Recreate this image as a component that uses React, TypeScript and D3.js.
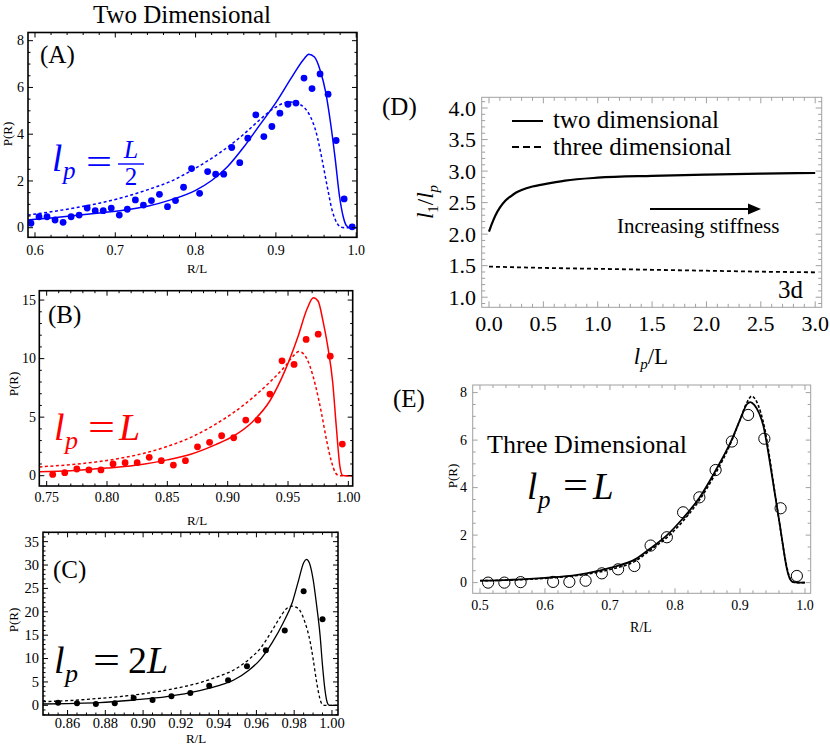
import React from 'react';
import * as d3 from 'd3';

const SERIF = "'Liberation Serif', 'Times New Roman', serif";
type Pt = [number, number];

// ---------- Panel A (2D, lp = L/2) ----------
const aDotX = [0.595,0.605,0.615,0.625,0.635,0.645,0.655,0.665,0.675,0.685,0.695,0.705,0.715,0.725,0.735,0.745,0.755,0.765,0.775,0.785,0.795,0.805,0.815,0.825,0.835,0.845,0.855,0.865,0.875,0.885,0.895,0.905,0.915,0.925,0.935,0.945,0.955,0.965,0.975,0.985,0.995];
const aDotY = [0.19,0.47,0.47,0.33,0.23,0.47,0.54,0.84,0.73,0.73,0.84,0.54,0.79,1.19,0.97,1.16,1.43,0.90,1.16,1.73,2.53,1.47,2.40,2.29,2.29,3.43,2.78,3.83,4.83,3.90,4.33,4.90,5.28,5.33,6.40,5.95,6.58,5.71,3.73,1.23,0.04];
const aSolid: Pt[] = [[0.591,0.33],[0.62,0.42],[0.65,0.52],[0.68,0.63],[0.71,0.75],[0.74,0.92],[0.77,1.2],[0.80,1.6],[0.82,2.02],[0.84,2.62],[0.86,3.45],[0.88,4.4],[0.90,5.35],[0.92,6.45],[0.935,7.22],[0.941,7.42],[0.948,7.3],[0.955,6.75],[0.962,5.8],[0.968,4.5],[0.974,2.9],[0.979,1.4],[0.984,0.45],[0.988,0.08],[0.992,0],[1.001,0]];
const aDashed: Pt[] = [[0.591,0.54],[0.62,0.68],[0.65,0.85],[0.68,1.05],[0.71,1.3],[0.74,1.62],[0.77,2.0],[0.80,2.55],[0.83,3.2],[0.86,4.0],[0.88,4.62],[0.895,5.05],[0.91,5.33],[0.918,5.38],[0.926,5.32],[0.935,5.15],[0.943,4.75],[0.95,4.1],[0.957,3.0],[0.964,1.75],[0.970,0.75],[0.976,0.2],[0.981,0.02],[0.985,0],[1.001,0]];
const aXTicks = [0.6,0.7,0.8,0.9,1.0];
const aYTicks = [0,2,4,6,8];

// ---------- Panel B (2D, lp = L) ----------
const bDotX = [0.755,0.765,0.775,0.785,0.795,0.805,0.815,0.825,0.835,0.845,0.855,0.865,0.875,0.885,0.895,0.905,0.915,0.925,0.935,0.945,0.955,0.965,0.975,0.985,0.995];
const bDotY = [0.11,0.26,0.57,0.49,0.49,1.0,1.11,1.11,1.57,1.28,0.91,1.28,2.47,2.85,3.41,3.24,4.75,4.75,6.97,9.81,9.50,11.64,12.09,10.21,2.7];
const bSolid: Pt[] = [[0.744,0.33],[0.77,0.42],[0.80,0.65],[0.83,0.98],[0.85,1.35],[0.87,1.85],[0.89,2.65],[0.905,3.4],[0.92,4.55],[0.935,6.4],[0.948,9.1],[0.958,11.8],[0.966,14.3],[0.971,15.2],[0.975,14.9],[0.979,13.2],[0.983,11.0],[0.987,8.0],[0.990,4.2],[0.993,0.8],[0.995,0.05],[0.997,0],[1.0036,0]];
const bDashed: Pt[] = [[0.744,0.75],[0.77,0.95],[0.80,1.3],[0.83,1.9],[0.85,2.5],[0.87,3.3],[0.89,4.4],[0.905,5.4],[0.92,6.6],[0.935,8.0],[0.948,9.4],[0.955,10.3],[0.959,10.6],[0.963,10.4],[0.968,9.4],[0.973,7.6],[0.978,5.2],[0.982,3.0],[0.986,1.2],[0.989,0.3],[0.992,0.02],[0.994,0],[1.0036,0]];
const bXTicks = [0.75,0.80,0.85,0.90,0.95,1.00];
const bYTicks = [0,5,10,15];

// ---------- Panel C (2D, lp = 2L) ----------
const cDotX = [0.855,0.865,0.875,0.885,0.895,0.905,0.915,0.925,0.935,0.945,0.955,0.965,0.975,0.985,0.995];
const cDotY = [0.56,0.42,0.28,0.42,1.56,1.13,1.92,2.63,4.19,5.34,8.33,11.75,16.02,24.4,18.38];
const cSolid: Pt[] = [[0.847,0.28],[0.86,0.38],[0.877,0.56],[0.895,1.13],[0.9125,1.85],[0.93,3.13],[0.94,4.2],[0.948,5.41],[0.956,7.5],[0.9625,10.0],[0.9685,13.5],[0.974,17.5],[0.979,22.0],[0.9825,27.0],[0.985,30.5],[0.9865,31.2],[0.988,30.5],[0.990,27.0],[0.992,21.0],[0.9937,15.0],[0.995,8.5],[0.9963,3.3],[0.9975,0.6],[0.9985,0],[1.0032,0]];
const cDashed: Pt[] = [[0.847,0.78],[0.86,1.0],[0.877,1.49],[0.895,2.2],[0.9125,3.28],[0.93,4.84],[0.94,6.2],[0.948,7.55],[0.956,9.8],[0.9625,12.4],[0.968,15.8],[0.9725,18.8],[0.976,20.7],[0.9787,21.2],[0.981,21.0],[0.983,20.3],[0.9855,18.0],[0.9885,13.5],[0.990,10.0],[0.992,4.7],[0.9935,1.6],[0.9945,0.4],[0.996,0],[1.0032,0]];
const cXTicks = [0.86,0.88,0.90,0.92,0.94,0.96,0.98,1.00];
const cYTicks = [0,5,10,15,20,25,30,35];

// ---------- Panel D (l1/lp vs lp/L) ----------
const dTwoD: Pt[] = [[0.0,2.04],[0.03,2.18],[0.06,2.3],[0.1,2.42],[0.15,2.53],[0.2,2.6],[0.25,2.66],[0.3,2.7],[0.4,2.755],[0.5,2.79],[0.7,2.85],[1.0,2.895],[1.5,2.925],[2.0,2.945],[2.5,2.96],[3.0,2.97]];
const dThreeD: Pt[] = [[0.0,1.485],[0.5,1.465],[1.0,1.45],[1.5,1.435],[2.0,1.42],[2.5,1.405],[3.0,1.395]];
const dXTicks = [0,0.5,1.0,1.5,2.0,2.5,3.0];
const dYTicks = [1.0,1.5,2.0,2.5,3.0,3.5,4.0];
const dLegend = ['two dimensional', 'three dimensional'];

// ---------- Panel E (3D, lp = L) ----------
const eDotX = [0.5125,0.5375,0.5625,0.6125,0.6375,0.6625,0.6875,0.7125,0.7375,0.7625,0.7875,0.8125,0.8375,0.8625,0.8875,0.9125,0.9375,0.9625,0.9875];
const eDotY = [0.0,0.0,0.02,0.03,0.03,0.08,0.39,0.56,0.70,1.56,1.91,2.96,3.59,4.74,5.94,7.06,6.06,3.13,0.28];
const eSolid: Pt[] = [[0.5,0.08],[0.55,0.12],[0.6,0.2],[0.65,0.33],[0.7,0.62],[0.74,1.0],[0.7626,1.45],[0.787,1.98],[0.812,2.7],[0.837,3.55],[0.8615,4.67],[0.887,6.0],[0.90,6.85],[0.911,7.52],[0.916,7.6],[0.922,7.48],[0.93,7.1],[0.936,6.6],[0.944,5.4],[0.951,4.2],[0.9615,2.4],[0.967,1.4],[0.972,0.6],[0.977,0.15],[0.982,0.02],[0.99,0],[1.0,0]];
const eDashed: Pt[] = [[0.5,0.08],[0.55,0.11],[0.6,0.18],[0.65,0.3],[0.7,0.55],[0.74,0.92],[0.7626,1.38],[0.787,1.88],[0.812,2.58],[0.837,3.45],[0.8615,4.55],[0.887,5.95],[0.90,6.85],[0.911,7.6],[0.918,7.85],[0.924,7.7],[0.932,7.15],[0.938,6.5],[0.946,5.2],[0.953,3.9],[0.9625,2.2],[0.968,1.25],[0.973,0.55],[0.978,0.12],[0.983,0.01],[0.99,0],[1.0,0]];
const eXTicks = [0.5,0.6,0.7,0.8,0.9,1.0];
const eYTicks = [0,2,4,6,8];

function minorVals(lo: number, hi: number, step: number, major: number[]) {
  const out: number[] = [];
  for (let i = Math.ceil(lo / step - 1e-9); i * step <= hi + 1e-9; i++) {
    const v = i * step;
    if (!major.some((m) => Math.abs(m - v) < step * 0.01)) out.push(v);
  }
  return out;
}

type FrameProps = {
  x: d3.ScaleLinear<number, number>;
  y: d3.ScaleLinear<number, number>;
  xTicks: number[]; yTicks: number[];
  xMinor: number; yMinor: number;
  xFmt: (v: number) => string; yFmt: (v: number) => string;
  frameColor: string; frameWidth: number; tickColor: string;
  fs: number; xLabelBase: number; yLabelRight: number;
  majLen: number; minLen: number;
};

function Frame(p: FrameProps) {
  const [x0, x1] = p.x.range();
  const [y0, y1] = p.y.range();
  const xd = p.x.domain(), yd = p.y.domain();
  const xm = minorVals(xd[0], xd[1], p.xMinor, p.xTicks);
  const ym = minorVals(yd[0], yd[1], p.yMinor, p.yTicks);
  const segs: JSX.Element[] = [];
  const tick = (k: string, a: number, b: number, c: number, d: number) =>
    segs.push(<line key={k} x1={a} y1={b} x2={c} y2={d} stroke={p.tickColor} strokeWidth={1} />);
  p.xTicks.forEach((v, i) => { const px = p.x(v); tick('xM' + i, px, y0, px, y0 - p.majLen); tick('xMt' + i, px, y1, px, y1 + p.majLen); });
  xm.forEach((v, i) => { const px = p.x(v); tick('xm' + i, px, y0, px, y0 - p.minLen); tick('xmt' + i, px, y1, px, y1 + p.minLen); });
  p.yTicks.forEach((v, i) => { const py = p.y(v); tick('yM' + i, x0, py, x0 + p.majLen, py); tick('yMr' + i, x1, py, x1 - p.majLen, py); });
  ym.forEach((v, i) => { const py = p.y(v); tick('ym' + i, x0, py, x0 + p.minLen, py); tick('ymr' + i, x1, py, x1 - p.minLen, py); });
  return (
    <g>
      {segs}
      <rect x={x0} y={y1} width={x1 - x0} height={y0 - y1} fill="none" stroke={p.frameColor} strokeWidth={p.frameWidth} />
      {p.xTicks.map((v, i) => (
        <text key={'xl' + i} x={p.x(v)} y={p.xLabelBase} fontSize={p.fs} textAnchor="middle" fontFamily={SERIF}>{p.xFmt(v)}</text>
      ))}
      {p.yTicks.map((v, i) => (
        <text key={'yl' + i} x={p.yLabelRight} y={p.y(v) + p.fs * 0.34} fontSize={p.fs} textAnchor="end" fontFamily={SERIF}>{p.yFmt(v)}</text>
      ))}
    </g>
  );
}

const lineGen = (x: d3.ScaleLinear<number, number>, y: d3.ScaleLinear<number, number>) =>
  d3.line<Pt>().x((d) => x(d[0])).y((d) => y(d[1])).curve(d3.curveMonotoneX);

function ClipRect({ id, x, y }: { id: string; x: d3.ScaleLinear<number, number>; y: d3.ScaleLinear<number, number> }) {
  const [x0, x1] = x.range(); const [y0, y1] = y.range();
  return <clipPath id={id}><rect x={x0} y={y1} width={x1 - x0} height={y0 - y1} /></clipPath>;
}

export default function App() {
  const ax = d3.scaleLinear().domain([0.5913, 1.001]).range([28, 357]);
  const ay = d3.scaleLinear().domain([-0.41, 8.35]).range([237.3, 32.5]);
  const bx = d3.scaleLinear().domain([0.7439, 1.0036]).range([39.3, 352.7]);
  const by = d3.scaleLinear().domain([-0.88, 15.8]).range([486, 290.7]);
  const cx = d3.scaleLinear().domain([0.847, 1.0032]).range([43, 338]);
  const cy = d3.scaleLinear().domain([-2.07, 37]).range([715, 532.3]);
  const dx = d3.scaleLinear().domain([-0.067, 3.06]).range([481.7, 821.7]);
  const dy = d3.scaleLinear().domain([0.84, 4.17]).range([307.3, 97.3]);
  const ex = d3.scaleLinear().domain([0.4888, 1.0088]).range([472.7, 810.7]);
  const ey = d3.scaleLinear().domain([-0.45, 8.32]).range([593.3, 385]);

  const f1 = (v: number) => v.toFixed(1);
  const f2 = (v: number) => v.toFixed(2);
  const f0 = (v: number) => v.toFixed(0);
  const BLUE = '#0000ff', RED = '#ff0000', GRAY = '#a0a0a0';

  const common = { frameWidth: 1.6, frameColor: '#000', tickColor: '#000', majLen: 5, minLen: 2.5 };

  return (
    <svg width={830} height={751} style={{ position: 'absolute', left: 0, top: 0, background: '#fff' }} fontFamily={SERIF}>
      <defs>
        <ClipRect id="clipA" x={ax} y={ay} />
        <ClipRect id="clipB" x={bx} y={by} />
        <ClipRect id="clipC" x={cx} y={cy} />
        <ClipRect id="clipD" x={dx} y={dy} />
        <ClipRect id="clipE" x={ex} y={ey} />
      </defs>
      <rect x={0} y={0} width={830} height={751} fill="#fff" />

      <text x={182} y={23} fontSize={25} textAnchor="middle">Two Dimensional</text>

      {/* ---------- Panel A ---------- */}
      <g clipPath="url(#clipA)">
        <path d={lineGen(ax, ay)(aDashed) || ''} fill="none" stroke={BLUE} strokeWidth={1.5} strokeDasharray="3,2.5" />
        <path d={lineGen(ax, ay)(aSolid) || ''} fill="none" stroke={BLUE} strokeWidth={1.5} />
        {aDotX.map((v, i) => <circle key={i} cx={ax(v)} cy={ay(aDotY[i])} r={3.4} fill={BLUE} />)}
      </g>
      <Frame x={ax} y={ay} xTicks={aXTicks} yTicks={aYTicks} xMinor={0.02} yMinor={0.5} xFmt={f1} yFmt={f0}
        fs={14} xLabelBase={255} yLabelRight={24} {...common} />
      <text x={40} y={63} fontSize={25}>(A)</text>
      <text x={197} y={273} fontSize={13} textAnchor="middle">R/L</text>
      <text transform="translate(12,134) rotate(-90)" fontSize={13} textAnchor="middle">P(R)</text>
      <g fill={BLUE}>
        <text x={52} y={171} fontSize={37} fontStyle="italic">l</text>
        <text x={63} y={179} fontSize={25} fontStyle="italic">p</text>
        <text x={86} y={174} fontSize={36} textLength={26} lengthAdjust="spacingAndGlyphs">=</text>
        <text x={131} y={158} fontSize={26} fontStyle="italic" textAnchor="middle">L</text>
        <line x1={118} x2={144} y1={164} y2={164} stroke={BLUE} strokeWidth={1.4} />
        <text x={131} y={185} fontSize={25} textAnchor="middle">2</text>
      </g>

      {/* ---------- Panel B ---------- */}
      <g clipPath="url(#clipB)">
        <path d={lineGen(bx, by)(bDashed) || ''} fill="none" stroke={RED} strokeWidth={1.5} strokeDasharray="3,2.5" />
        <path d={lineGen(bx, by)(bSolid) || ''} fill="none" stroke={RED} strokeWidth={1.5} />
        {bDotX.map((v, i) => <circle key={i} cx={bx(v)} cy={by(bDotY[i])} r={3.4} fill={RED} />)}
      </g>
      <Frame x={bx} y={by} xTicks={bXTicks} yTicks={bYTicks} xMinor={0.01} yMinor={1} xFmt={f2} yFmt={f0}
        fs={14} xLabelBase={502} yLabelRight={36} {...common} />
      <text x={48} y={323} fontSize={25}>(B)</text>
      <text x={197} y={525} fontSize={13} textAnchor="middle">R/L</text>
      <text transform="translate(18,384) rotate(-90)" fontSize={13} textAnchor="middle">P(R)</text>
      <g fill={RED}>
        <text x={54} y={440} fontSize={38} fontStyle="italic">l</text>
        <text x={65} y={449} fontSize={26} fontStyle="italic">p</text>
        <text x={88} y={440} fontSize={38} textLength={27} lengthAdjust="spacingAndGlyphs">=</text>
        <text x={119} y={440} fontSize={38} fontStyle="italic">L</text>
      </g>

      {/* ---------- Panel C ---------- */}
      <g clipPath="url(#clipC)">
        <path d={lineGen(cx, cy)(cDashed) || ''} fill="none" stroke="#000" strokeWidth={1.3} strokeDasharray="3,2.5" />
        <path d={lineGen(cx, cy)(cSolid) || ''} fill="none" stroke="#000" strokeWidth={1.3} />
        {cDotX.map((v, i) => <circle key={i} cx={cx(v)} cy={cy(cDotY[i])} r={3} fill="#000" />)}
      </g>
      <Frame x={cx} y={cy} xTicks={cXTicks} yTicks={cYTicks} xMinor={0.005} yMinor={1} xFmt={f2} yFmt={f0}
        fs={14.5} xLabelBase={728} yLabelRight={39} {...common} />
      <text x={53} y={578} fontSize={25}>(C)</text>
      <text x={196} y={743} fontSize={13} textAnchor="middle">R/L</text>
      <text transform="translate(18,620) rotate(-90)" fontSize={13} textAnchor="middle">P(R)</text>
      <g fill="#000">
        <text x={54} y={673} fontSize={38} fontStyle="italic">l</text>
        <text x={65} y={682} fontSize={26} fontStyle="italic">p</text>
        <text x={93} y={673} fontSize={38} textLength={27} lengthAdjust="spacingAndGlyphs">=</text>
        <text x={128} y={673} fontSize={38}>2<tspan fontStyle="italic">L</tspan></text>
      </g>

      {/* ---------- Panel D ---------- */}
      <g clipPath="url(#clipD)">
        <path d={lineGen(dx, dy)(dTwoD) || ''} fill="none" stroke="#000" strokeWidth={2.2} />
        <path d={lineGen(dx, dy)(dThreeD) || ''} fill="none" stroke="#000" strokeWidth={1.8} strokeDasharray="4,3" />
      </g>
      <Frame x={dx} y={dy} xTicks={dXTicks} yTicks={dYTicks} xMinor={0.1} yMinor={0.1} xFmt={f1} yFmt={f1}
        fs={22} xLabelBase={331} yLabelRight={476} frameWidth={1} frameColor={GRAY} tickColor={GRAY} majLen={6} minLen={3.5} />
      <text x={382} y={115} fontSize={25}>(D)</text>
      <line x1={512} x2={543} y1={121} y2={121} stroke="#000" strokeWidth={2} />
      <text x={553} y={128} fontSize={25}>{dLegend[0]}</text>
      <line x1={512} x2={543} y1={147} y2={147} stroke="#000" strokeWidth={2} strokeDasharray="7,4" />
      <text x={553} y={155} fontSize={25}>{dLegend[1]}</text>
      <line x1={650} x2={752} y1={209} y2={209} stroke="#000" strokeWidth={2.2} />
      <path d="M 761 209 L 748 203.5 L 748 214.5 Z" fill="#000" />
      <text x={617} y={233} fontSize={21}>Increasing stiffness</text>
      <text x={778} y={298} fontSize={25}>3d</text>
      <text transform="translate(433,202) rotate(-90)" fontSize={23} textAnchor="middle">
        <tspan fontStyle="italic">l</tspan><tspan fontSize={15} dy={5}>1</tspan><tspan dy={-5}>/</tspan><tspan fontStyle="italic">l</tspan><tspan fontSize={15} dy={5} fontStyle="italic">p</tspan>
      </text>
      <text x={651} y={364} fontSize={23} textAnchor="middle">
        <tspan fontStyle="italic">l</tspan><tspan fontSize={15} dy={5} fontStyle="italic">p</tspan><tspan dy={-5}>/L</tspan>
      </text>

      {/* ---------- Panel E ---------- */}
      <g clipPath="url(#clipE)">
        <path d={lineGen(ex, ey)(eDashed) || ''} fill="none" stroke="#000" strokeWidth={1.6} strokeDasharray="3,2" />
        <path d={lineGen(ex, ey)(eSolid) || ''} fill="none" stroke="#000" strokeWidth={1.8} />
      </g>
      {eDotX.map((v, i) => <circle key={i} cx={ex(v)} cy={ey(eDotY[i])} r={5.6} fill="none" stroke="#000" strokeWidth={1} />)}
      <Frame x={ex} y={ey} xTicks={eXTicks} yTicks={eYTicks} xMinor={0.02} yMinor={0.5} xFmt={f1} yFmt={f0}
        fs={14} xLabelBase={610} yLabelRight={467} frameWidth={1} frameColor={GRAY} tickColor={GRAY} majLen={5} minLen={3} />
      <text x={393} y={407} fontSize={25}>(E)</text>
      <text x={641} y={632} fontSize={14} textAnchor="middle">R/L</text>
      <text transform="translate(457,476) rotate(-90)" fontSize={13} textAnchor="middle">P(R)</text>
      <text x={487} y={453} fontSize={26}>Three Dimensional</text>
      <g fill="#000">
        <text x={527} y={499} fontSize={37} fontStyle="italic">l</text>
        <text x={538} y={508} fontSize={25} fontStyle="italic">p</text>
        <text x={563} y={498} fontSize={37} textLength={25} lengthAdjust="spacingAndGlyphs">=</text>
        <text x={593} y={499} fontSize={37} fontStyle="italic">L</text>
      </g>
    </svg>
  );
}
